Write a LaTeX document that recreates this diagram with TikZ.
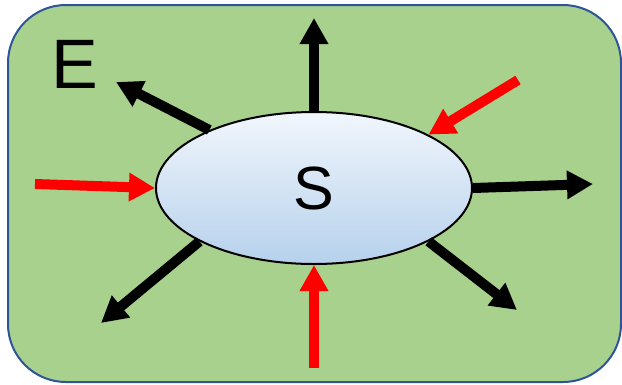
\documentclass[tikz,border=0pt]{standalone}
\usepackage{fontspec}
\setmainfont{Liberation Sans}
\usetikzlibrary{arrows.meta,shapes.geometric}

\definecolor{envgreen}{RGB}{169,209,142}
\definecolor{envborder}{RGB}{47,85,151}
\definecolor{systop}{RGB}{241,246,252}
\definecolor{sysbottom}{RGB}{182,209,236}

\begin{document}
\begin{tikzpicture}[
        x=1pt, y=-1pt,
        sys/.style={
            ellipse,
            draw,
            line width=2pt,
            top color=systop,
            bottom color=sysbottom,
            minimum width=316pt,
            minimum height=152pt,
            inner sep=0pt,
            font=\fontsize{61}{61}\selectfont
        },
        outflow/.style={line width=10pt, -{Triangle[length=26pt,width=27pt]}},
        inflow/.style={outflow, red},
    ]

    \useasboundingbox (0,0) rectangle (622,384);

    % environment
    \draw[rounded corners=58pt, fill=envgreen, draw=envborder, line width=2pt]
        (8,5) rectangle (621,382);
    \node[font=\fontsize{70}{70}\selectfont] (env) at (75,64) {E};

    % system
    \node[sys] (s) at (314,188) {S};

    % free ends
    \coordinate (up) at (314,18);
    \coordinate (nw) at (116,82);
    \coordinate (ea) at (593,184);
    \coordinate (sw) at (101,323);
    \coordinate (se) at (517,310);
    \coordinate (inw) at (35,184);
    \coordinate (ine) at (518,80);
    \coordinate (ins) at (314,368);

    % outputs
    \draw[outflow] (s.90) -- (up);
    \draw[outflow] (s.151.7) -- (nw);
    \draw[outflow] (s.east) -- (ea);
    \draw[outflow] (s.205.5) -- (sw);
    \draw[outflow] (s.335) -- (se);

    % inputs
    \draw[inflow] (inw) -- (s.west);
    \draw[inflow] (ine) -- (s.25.8);
    \draw[inflow] (ins) -- (s.south);

\end{tikzpicture}
\end{document}
